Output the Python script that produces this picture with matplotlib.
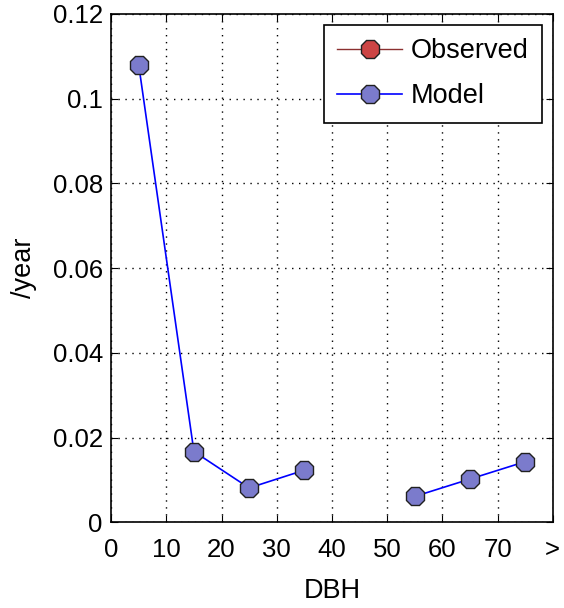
import numpy as np
import matplotlib.pyplot as plt

plt.rcParams['font.family'] = ['Liberation Sans', 'DejaVu Sans']

# DBH class midpoints and tick labels
dbh = [5, 15, 25, 35, 45, 55, 65, 75]
observed = [np.nan] * 8
model = [0.108, 0.0167, 0.0081, 0.0123, np.nan, 0.0061, 0.0102, 0.0143]
xticks = [0, 10, 20, 30, 40, 50, 60, 70, 80]
xticklabels = ['0', '10', '20', '30', '40', '50', '60', '70', '>']
yticks = [0, 0.02, 0.04, 0.06, 0.08, 0.1, 0.12]
yticklabels = ['0', '0.02', '0.04', '0.06', '0.08', '0.1', '0.12']

fig = plt.figure(figsize=(5.64, 6.08), dpi=100)
ax = fig.add_axes([0.197, 0.141, 0.783, 0.836])

ax.plot(dbh, observed, color='#8b3030', lw=1, marker='8', ms=14,
        mfc='#cc4444', mec='#202020', mew=1, label='Observed')
ax.plot(dbh, model, color='#0000ff', lw=1.2, marker='8', ms=14,
        mfc='#7b7bcc', mec='#202020', mew=1, label='Model')

ax.set_xlim(0, 80)
ax.set_ylim(0, 0.12)
ax.set_xticks(xticks)
ax.set_xticklabels(xticklabels)
ax.set_yticks(yticks)
ax.set_yticklabels(yticklabels)
ax.tick_params(direction='in', labelsize=18.5, length=5, top=True, right=True)
ax.tick_params(axis='x', pad=11)
ax.tick_params(axis='y', pad=6)
ax.grid(True, linestyle=(0, (1, 4)), color='black', lw=1)
for s in ax.spines.values():
    s.set_linewidth(1.2)

ax.set_xlabel('DBH', fontsize=19.5)
ax.set_ylabel('/year', fontsize=19.5)
ax.xaxis.set_label_coords(0.5, -0.11)
ax.yaxis.set_label_coords(-0.168, 0.5)

leg = ax.legend(loc='upper right', fontsize=19.5, frameon=True, fancybox=False,
                edgecolor='black', handlelength=2.4, handletextpad=0.3,
                borderpad=0.5, labelspacing=0.7, borderaxespad=0.4)
leg.get_frame().set_linewidth(1.2)
leg.get_frame().set_alpha(1)

fig.savefig('out.png', dpi=100)
